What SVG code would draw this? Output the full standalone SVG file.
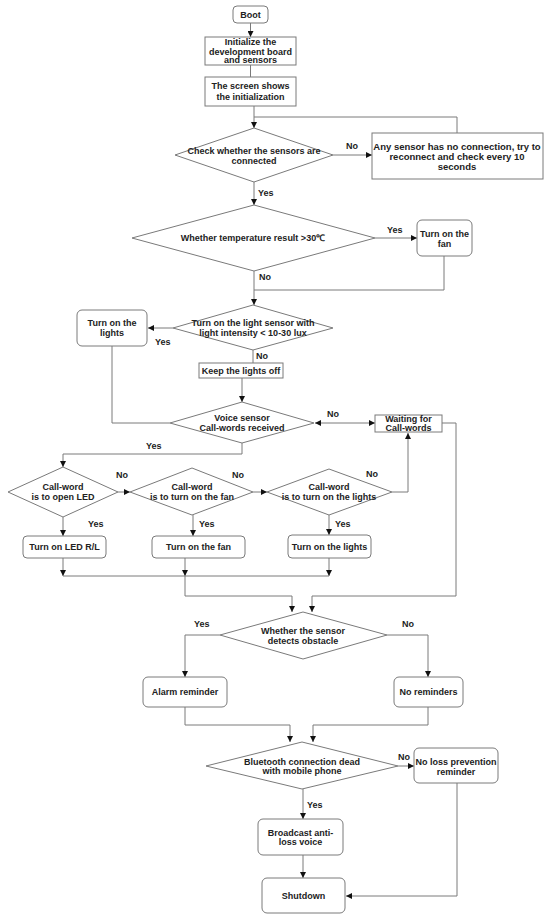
<svg xmlns="http://www.w3.org/2000/svg" width="550" height="921" viewBox="0 0 550 921">
<defs>
<marker id="ah" markerUnits="userSpaceOnUse" markerWidth="6" markerHeight="6" refX="6" refY="3" orient="auto">
<path d="M0,0 L6,3 L0,6 z" fill="#111"/>
</marker>
<marker id="ahr" markerUnits="userSpaceOnUse" markerWidth="6" markerHeight="6" refX="6" refY="3" orient="auto-start-reverse">
<path d="M0,0 L6,3 L0,6 z" fill="#111"/>
</marker>
<style>
.b{fill:#fff;stroke:#7a7a7a;stroke-width:1}
.t{font-family:"Liberation Sans",Arial,sans-serif;font-weight:bold;font-size:9px;fill:#222;text-anchor:middle}
.big{font-size:9.5px}
.l{font-family:"Liberation Sans",Arial,sans-serif;font-weight:bold;font-size:9px;fill:#222}
.c{fill:none;stroke:#7a7a7a;stroke-width:1}
.a{marker-end:url(#ah)}
</style>
</defs>
<rect width="550" height="921" fill="#fff"/>
<g id="connectors">
<path class="c a" d="M250.5,23 V37"/>
<path class="c" d="M250.5,65 V77"/>
<path class="c a" d="M254,106 V128"/>
<path class="c" d="M457,133 V117 H254"/>
<path class="c a" d="M333,155 H372"/>
<path class="c a" d="M254,182 V205"/>
<path class="c a" d="M375,238 H417"/>
<path class="c" d="M444,256 V290 H254"/>
<path class="c a" d="M254,271 V305"/>
<path class="c a" d="M173,328 H148"/>
<path class="c" d="M112,346 V423 H170"/>
<path class="c" d="M253,350 V363"/>
<path class="c a" d="M242,378 V402"/>
<path class="c" d="M375,423 H315" marker-start="url(#ahr)" marker-end="url(#ahr)"/>
<path class="c a" d="M442,423 H456 V596 H312 V612"/>
<path class="c a" d="M242,443 V454 H63 V467"/>
<path class="c a" d="M118,492 H130"/>
<path class="c a" d="M253,492 H267"/>
<path class="c a" d="M392,492 H408 V433"/>
<path class="c a" d="M63,517 V536"/>
<path class="c a" d="M193,515 V536"/>
<path class="c a" d="M329,515 V535"/>
<path class="c a" d="M63,558 V576"/>
<path class="c a" d="M185,558 V576"/>
<path class="c a" d="M329,558 V576"/>
<path class="c" d="M63,576 H329"/>
<path class="c a" d="M185,576 V596 H292 V612"/>
<path class="c a" d="M220,635 H185 V677"/>
<path class="c a" d="M387,635 H428 V677"/>
<path class="c a" d="M185,707 V725 H290 V742"/>
<path class="c a" d="M428,707 V725 H313 V742"/>
<path class="c a" d="M398,766 H414"/>
<path class="c a" d="M457,783 V896 H346"/>
<path class="c a" d="M303,789 V819"/>
<path class="c a" d="M303,855 V878"/>
<text class="l" x="346" y="149">No</text>
<text class="l" x="258" y="196">Yes</text>
<text class="l" x="387" y="233">Yes</text>
<text class="l" x="259" y="280">No</text>
<text class="l" x="155" y="345">Yes</text>
<text class="l" x="256" y="359">No</text>
<text class="l" x="327" y="417">No</text>
<text class="l" x="146" y="449">Yes</text>
<text class="l" x="116" y="478">No</text>
<text class="l" x="232" y="478">No</text>
<text class="l" x="366" y="477">No</text>
<text class="l" x="88" y="527">Yes</text>
<text class="l" x="199" y="527">Yes</text>
<text class="l" x="335" y="527">Yes</text>
<text class="l" x="194" y="627">Yes</text>
<text class="l" x="402" y="627">No</text>
<text class="l" x="398" y="760">No</text>
<text class="l" x="307" y="808">Yes</text>
</g>
<g id="boot"><rect class="b" x="233" y="6" width="35" height="17" rx="4"/><text class="t" x="250.5" y="17.5">Boot</text></g>
<g id="init"><rect class="b" x="205" y="37" width="91" height="28"/><text class="t" x="250.5" y="45">Initialize the</text><text class="t" x="250.5" y="54.5">development board</text><text class="t" x="250.5" y="63">and sensors</text></g>
<g id="screen"><rect class="b" x="205" y="77" width="91" height="29"/><text class="t" x="250.5" y="89">The screen shows</text><text class="t" x="250.5" y="99.5">the initialization</text></g>
<g id="check"><polygon class="b" points="254,128 333,155 254,182 175,155"/><text class="t" x="254" y="154">Check whether the sensors are</text><text class="t" x="254" y="163.5">connected</text></g>
<g id="reconnect"><rect class="b" x="372" y="133" width="171" height="46"/><text class="t big" x="457" y="149.5">Any sensor has no connection, try to</text><text class="t big" x="457" y="159.5">reconnect and check every 10</text><text class="t big" x="457" y="169.5">seconds</text></g>
<g id="temp"><polygon class="b" points="254,205 375,238 254,271 132,238"/><text class="t" x="253" y="241">Whether temperature result &gt;30℃</text></g>
<g id="fan1"><rect class="b" x="417" y="220" width="55" height="36" rx="5"/><text class="t" x="444.5" y="237">Turn on the</text><text class="t" x="444.5" y="247">fan</text></g>
<g id="light"><polygon class="b" points="253,305 333,328 253,350 173,328"/><text class="t" x="253" y="326">Turn on the light sensor with</text><text class="t" x="253" y="336">light intensity &lt; 10-30 lux</text></g>
<g id="lightson"><rect class="b" x="77" y="310" width="70" height="36" rx="5"/><text class="t" x="112" y="326">Turn on the</text><text class="t" x="112" y="336">lights</text></g>
<g id="keepoff"><rect class="b" x="199" y="363" width="84" height="15"/><text class="t" x="241" y="373.5">Keep the lights off</text></g>
<g id="voice"><polygon class="b" points="242,402 314,423 242,443 170,423"/><text class="t" x="242" y="421">Voice sensor</text><text class="t" x="242" y="431">Call-words received</text></g>
<g id="waiting"><rect class="b" x="375" y="415" width="67" height="17"/><text class="t" x="408.5" y="422">Waiting for</text><text class="t" x="408.5" y="431">Call-words</text></g>
<g id="led"><polygon class="b" points="63,467 118,492 63,517 8,492"/><text class="t" x="63" y="490">Call-word</text><text class="t" x="63" y="500">is to open LED</text></g>
<g id="fanq"><polygon class="b" points="192,468 253,492 192,515 130,492"/><text class="t" x="192" y="490">Call-word</text><text class="t" x="192" y="500">is to turn on the fan</text></g>
<g id="lightsq"><polygon class="b" points="329,469 392,492 329,515 267,492"/><text class="t" x="329" y="490">Call-word</text><text class="t" x="329" y="500">is to turn on the lights</text></g>
<g id="ledon"><rect class="b" x="23" y="536" width="83" height="22" rx="4"/><text class="t" x="64.5" y="550">Turn on LED R/L</text></g>
<g id="fanon"><rect class="b" x="152" y="536" width="93" height="22" rx="4"/><text class="t" x="198.5" y="550">Turn on the fan</text></g>
<g id="lightson2"><rect class="b" x="288" y="535" width="83" height="23" rx="4"/><text class="t" x="329.5" y="550">Turn on the lights</text></g>
<g id="obstacle"><polygon class="b" points="303,612 387,635 303,659 220,635"/><text class="t" x="303" y="634">Whether the sensor</text><text class="t" x="303" y="644">detects obstacle</text></g>
<g id="alarm"><rect class="b" x="143" y="677" width="84" height="30" rx="5"/><text class="t" x="185" y="695">Alarm reminder</text></g>
<g id="noreminders"><rect class="b" x="394" y="677" width="69" height="30" rx="5"/><text class="t" x="428.5" y="695">No reminders</text></g>
<g id="bluetooth"><polygon class="b" points="302,742 398,766 302,789 206,766"/><text class="t" x="302" y="765">Bluetooth connection dead</text><text class="t" x="302" y="774">with mobile phone</text></g>
<g id="noloss"><rect class="b" x="414" y="748" width="84" height="35" rx="5"/><text class="t" x="456" y="765">No loss prevention</text><text class="t" x="456" y="775">reminder</text></g>
<g id="broadcast"><rect class="b" x="258" y="819" width="85" height="36" rx="5"/><text class="t" x="300.5" y="836">Broadcast anti-</text><text class="t" x="300.5" y="845">loss voice</text></g>
<g id="shutdown"><rect class="b" x="262" y="878" width="83" height="35" rx="5"/><text class="t" x="303.5" y="899">Shutdown</text></g>
</svg>
